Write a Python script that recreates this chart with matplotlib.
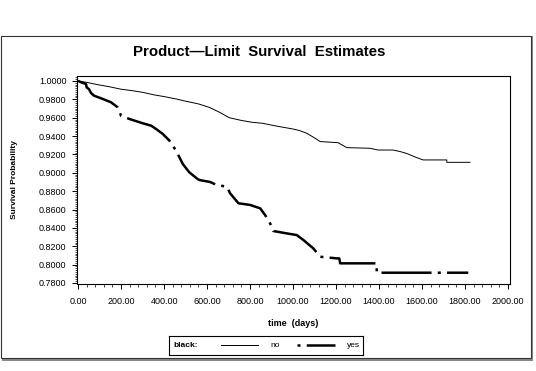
import matplotlib
matplotlib.use('Agg')
import matplotlib.pyplot as plt
from matplotlib.patches import Rectangle
from matplotlib.lines import Line2D
from matplotlib.ticker import MultipleLocator, FormatStrFormatter

plt.rcParams['font.family'] = ['Liberation Sans', 'DejaVu Sans']

# survival curves (days, probability)
no_days = [0, 40, 90, 144, 200, 250, 301, 350, 400, 456, 500, 560, 610, 657, 703,
           760, 810, 859, 920, 999, 1030, 1064, 1100, 1126, 1209, 1250, 1358, 1395,
           1465, 1500, 1529, 1570, 1605, 1715, 1715, 1823]
no_surv = [1.0, 0.9985, 0.996, 0.9938, 0.991, 0.9895, 0.9876, 0.985, 0.983, 0.9804,
           0.978, 0.975, 0.9713, 0.966, 0.960, 0.957, 0.955, 0.9539, 0.951, 0.9477,
           0.946, 0.943, 0.938, 0.934, 0.9328, 0.9274, 0.9267, 0.9248, 0.9248, 0.923,
           0.921, 0.917, 0.914, 0.914, 0.9114, 0.9114]

yes_days = [0, 20, 37, 40, 51, 60, 74, 115, 153, 184, 195, 200, 239, 301, 340, 363,
            394, 425, 456, 487, 517, 557, 567, 614, 645, 692, 707, 746, 800, 847, 870,
            893, 908, 971, 1017, 1048, 1094, 1126, 1203, 1215, 1219, 1389, 1389, 1815]
yes_surv = [1.0, 0.998, 0.9967, 0.993, 0.991, 0.987, 0.984, 0.9804, 0.9768, 0.9713,
            0.965, 0.962, 0.9586, 0.9539, 0.9513, 0.9477, 0.9423, 0.935, 0.924, 0.9096,
            0.9006, 0.893, 0.892, 0.890, 0.8867, 0.8849, 0.8777, 0.8668, 0.865, 0.8613,
            0.854, 0.845, 0.8366, 0.834, 0.8322, 0.8268, 0.8177, 0.8086, 0.8068, 0.8068,
            0.8014, 0.8014, 0.7912, 0.7912]

W, H = 536, 371
fig = plt.figure(figsize=(W / 100, H / 100), dpi=100)

# outer frame with shadow
fig.patches.append(Rectangle((2 / W, 1 - 361 / H), 531 / W, 325 / H, transform=fig.transFigure,
                             facecolor='#888888', edgecolor='none', zorder=0))
fig.patches.append(Rectangle((0.5 / W, 1 - 358 / H), 530 / W, 322 / H, transform=fig.transFigure,
                             facecolor='white', edgecolor='#333333', lw=0.8, zorder=1))

ax = fig.add_axes([77 / W, 1 - 284 / H, 433 / W, 208 / H])
ax.set_zorder(2)

ax.plot(no_days, no_surv, color='black', lw=0.7)
ax.plot(yes_days, yes_surv, color='black', lw=1.8,
        linestyle=(0, (20, 2.5, 1.2, 2.5)))

ax.set_xlim(-5, 2009)
ax.set_ylim(0.7789, 1.0054)
ax.xaxis.set_major_locator(MultipleLocator(200))
ax.xaxis.set_minor_locator(MultipleLocator(40))
ax.yaxis.set_major_locator(MultipleLocator(0.02))
ax.yaxis.set_minor_locator(MultipleLocator(0.002))
ax.xaxis.set_major_formatter(FormatStrFormatter('%.2f'))
ax.yaxis.set_major_formatter(FormatStrFormatter('%.4f'))
ax.tick_params(which='major', direction='out', length=3.5, width=0.7, labelsize=6.5, pad=4)
ax.tick_params(axis='x', which='major', pad=6)
ax.tick_params(which='minor', direction='out', length=1.8, width=0.5)
for s in ax.spines.values():
    s.set_linewidth(0.8)

ax.set_xlabel('time  (days)', fontsize=6.5, fontweight='bold', labelpad=9)
fig.text(15 / W, 1 - 180 / H, 'Survival Probability', rotation=90, fontsize=6,
         fontweight='bold', ha='center', va='center', zorder=3)

fig.text(259 / W, 1 - 52 / H, 'Product\u2014Limit  Survival  Estimates', fontsize=10.8,
         fontweight='bold', ha='center', va='center', zorder=3)

# legend box
lg = fig.add_axes([169 / W, 1 - 355 / H, 194 / W, 19 / H])
lg.set_zorder(3)
lg.set_xlim(0, 194)
lg.set_ylim(0, 19)
lg.set_xticks([])
lg.set_yticks([])
for s in lg.spines.values():
    s.set_linewidth(0.8)
lg.text(4, 9.5, 'black:', fontsize=6, fontweight='bold', va='center')
lg.add_line(Line2D([52, 89], [10, 10], color='black', lw=0.7))
lg.text(101, 9.5, 'no', fontsize=6, va='center')
lg.add_line(Line2D([128, 166], [10, 10], color='black', lw=1.8,
                   linestyle=(0, (1.2, 2.5, 20, 2.5))))
lg.text(178, 9.5, 'yes', fontsize=6, va='center')

fig.savefig('out.png', dpi=100)
